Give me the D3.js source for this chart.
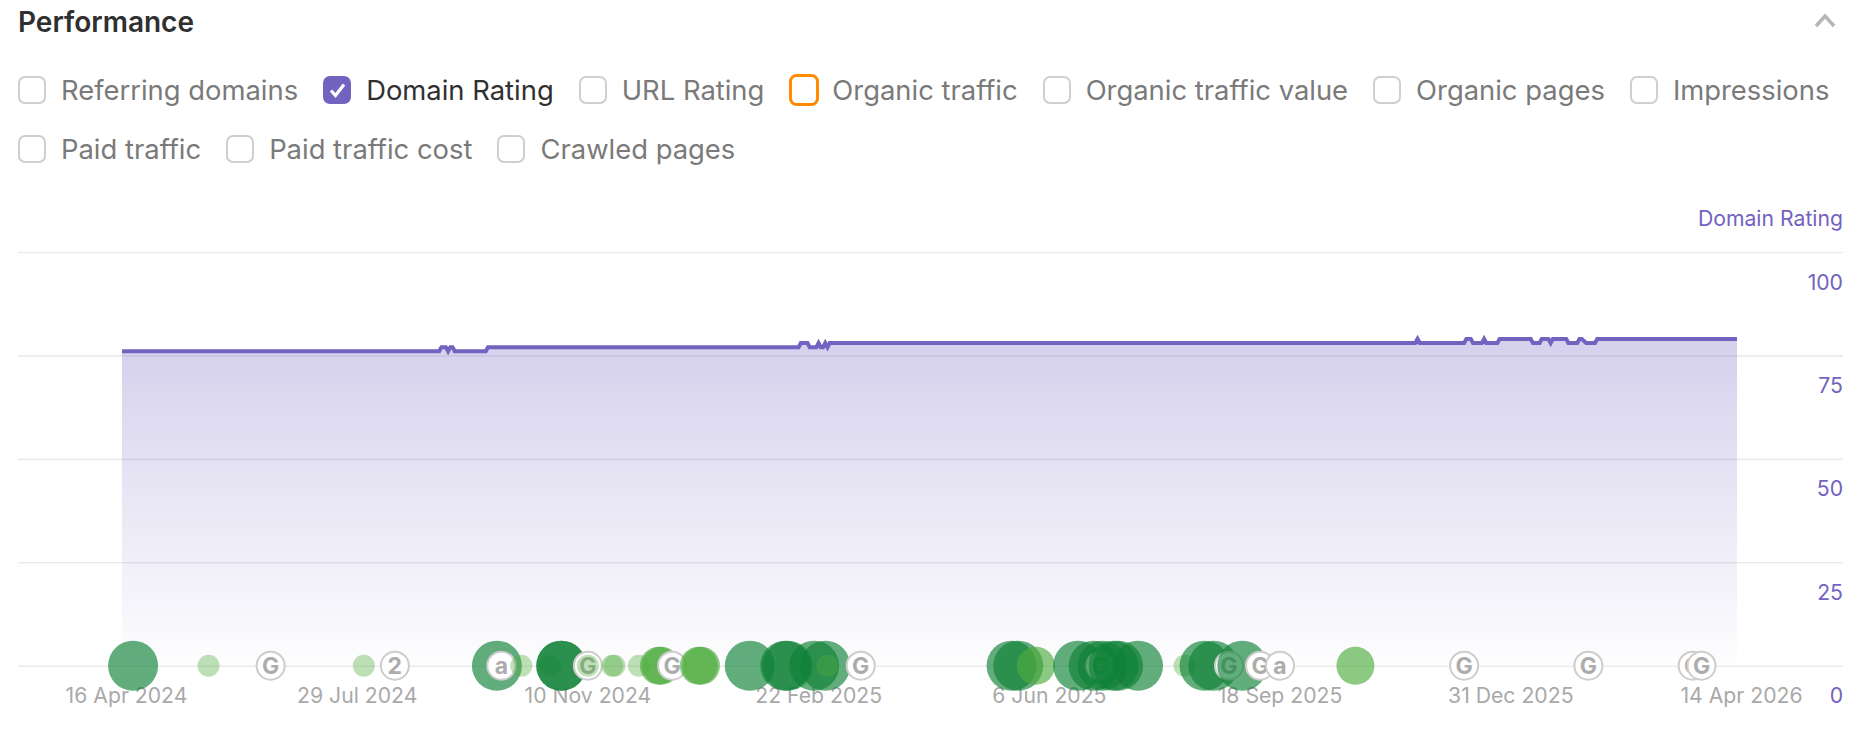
<!DOCTYPE html>
<html>
<head>
<meta charset="utf-8">
<script src="https://cdn.jsdelivr.net/npm/d3@7"></script>
<style>
    html, body { margin: 0; background: #fff; font-family: Inter, sans-serif; overflow: hidden; }
    #page { position: relative; width: 1870px; height: 736px; }
    #title { position: absolute; left: 18px; top: 5px; font-size: 28px; line-height: 34px; font-weight: 600; color: #2f2f2f; }
    #filters { position: absolute; left: 18px; top: 74px; width: 1840px; display: flex; flex-wrap: wrap; column-gap: 25px; row-gap: 27px; }
    .filter { display: flex; align-items: center; height: 32px; font-size: 27.4px; color: #7a7a7a; white-space: nowrap; }
    .filter.checked { color: #303030; }
    .filter svg { margin-right: 13px; }
    #chart { position: absolute; left: 0; top: 0; }
    .axis text { font-family: Inter, sans-serif; font-size: 21.2px; }
    .axis .domain { display: none; }
</style>
</head>
<body>
<div id="page">
    <svg id="chart" width="1870" height="736"></svg>
    <div id="title">Performance</div>
    <div id="filters"></div>
</div>
<script>
var filterLabels = ['Referring domains', 'Domain Rating', 'URL Rating', 'Organic traffic', 'Organic traffic value',
    'Organic pages', 'Impressions', 'Paid traffic', 'Paid traffic cost', 'Crawled pages'];
var checkedFilter = 'Domain Rating';
var focusedFilter = 'Organic traffic';

var yTicks = [0, 25, 50, 75, 100];
var xTicks = ['2024-04-16', '2024-07-29', '2024-11-10', '2025-02-22', '2025-06-06', '2025-09-18', '2025-12-31', '2026-04-14'];

// Domain Rating, only the days around a change
var ratingDates = ['2024-04-16', '2024-09-06', '2024-09-07', '2024-09-09', '2024-09-10', '2024-09-11', '2024-09-12', '2024-09-13',
    '2024-09-27', '2024-09-28', '2025-02-15', '2025-02-16', '2025-02-19', '2025-02-20', '2025-02-23', '2025-02-24', '2025-02-25',
    '2025-02-26', '2025-02-27', '2025-02-28', '2025-03-01', '2025-11-20', '2025-11-21', '2025-11-22', '2025-12-12', '2025-12-13',
    '2025-12-15', '2025-12-16', '2025-12-20', '2025-12-21', '2025-12-22', '2025-12-27', '2025-12-28', '2026-01-11', '2026-01-12',
    '2026-01-15', '2026-01-16', '2026-01-19', '2026-01-20', '2026-01-21', '2026-01-27', '2026-01-28', '2026-02-01', '2026-02-02',
    '2026-02-03', '2026-02-05', '2026-02-09', '2026-02-10', '2026-04-14'];
var ratingValues = [76, 76, 77, 77, 76, 77, 77, 76,
    76, 77, 77, 78, 78, 77, 77, 78, 77,
    77, 78, 77, 78, 78, 79, 78, 78, 79,
    79, 78, 78, 79, 78, 78, 79, 79, 78,
    78, 79, 79, 78, 79, 79, 78, 78, 79,
    79, 78, 78, 79, 79];

// update bubbles: level 3 is the biggest
var bubbleDates = ['2024-04-21', '2024-05-25', '2024-08-03', '2024-10-02', '2024-10-13', '2024-10-26', '2024-10-31', '2024-10-31',
    '2024-11-12', '2024-11-23', '2024-11-24', '2024-12-05', '2024-12-14', '2024-12-15', '2025-01-01', '2025-01-02', '2025-01-24',
    '2025-02-09', '2025-02-10', '2025-02-22', '2025-02-27', '2025-02-28', '2025-05-22', '2025-05-25', '2025-06-02', '2025-06-21',
    '2025-06-28', '2025-07-02', '2025-07-07', '2025-07-09', '2025-07-18', '2025-08-08', '2025-08-17', '2025-08-21', '2025-09-03', '2025-10-24'];
var bubbleLevels = [3, 1, 1, 3, 1, 1, 3, 3,
    1, 1, 1, 1, 2, 2, 2, 2, 3,
    3, 3, 3, 3, 1, 3, 3, 2, 3,
    3, 3, 3, 3, 3, 1, 3, 3, 3, 2];

var markerDates = ['2024-06-22', '2024-08-17', '2024-10-04', '2024-11-12', '2024-12-20', '2025-03-15', '2025-07-01',
    '2025-08-28', '2025-09-11', '2025-09-20', '2025-12-12', '2026-02-06', '2026-03-25', '2026-03-29'];
var markerLabels = ['G', '2', 'a', 'G', 'G', 'G', 'G', 'G', 'G', 'a', 'G', 'G', 'G', 'G'];

var purple = '#7362c0';
var parseDate = d3.utcParse('%Y-%m-%d');

// filters row
var filters = d3.select('#filters').selectAll('.filter')
    .data(filterLabels).enter()
    .append('div')
    .attr('class', d => d === checkedFilter ? 'filter checked' : 'filter');
var boxes = filters.append('svg').attr('width', 30).attr('height', 32);
boxes.append('rect')
    .attr('x', d => d === focusedFilter ? 1.5 : 1)
    .attr('y', d => d === focusedFilter ? 1.5 : 3)
    .attr('width', d => d === focusedFilter ? 27 : 26)
    .attr('height', d => d === focusedFilter ? 29 : 26)
    .attr('rx', 6)
    .attr('fill', d => d === checkedFilter ? purple : '#fff')
    .attr('stroke', d => d === focusedFilter ? '#ff8a00' : (d === checkedFilter ? purple : '#cfcfcf'))
    .attr('stroke-width', d => d === focusedFilter ? 3 : 2);
boxes.filter(d => d === checkedFilter).append('path')
    .attr('d', 'M8 16.5l4.5 5L21 10.5')
    .attr('fill', 'none')
    .attr('stroke', '#fff')
    .attr('stroke-width', 3.2);
filters.append('span').text(d => d);

// chart
var svg = d3.select('#chart');
var x = d3.scaleUtc().domain([parseDate('2024-04-16'), parseDate('2026-04-14')]).range([122, 1737]);
var y = d3.scaleLinear().domain([0, 100]).range([665.7, 252]);
var radius = d3.scaleOrdinal().domain([1, 2, 3]).range([11, 19, 25]);
var bubbleColor = d3.scaleOrdinal().domain([1, 2, 3]).range(['rgba(78,172,61,0.37)', 'rgba(78,172,61,0.65)', 'rgba(14,129,54,0.65)']);

var rating = ratingDates.map((d, i) => ({date: parseDate(d), value: ratingValues[i]}));

var grad = svg.append('defs').append('linearGradient')
    .attr('id', 'ratingFill')
    .attr('x1', 0).attr('y1', 0).attr('x2', 0).attr('y2', 1);
grad.append('stop').attr('offset', 0).attr('stop-color', purple).attr('stop-opacity', 0.3);
grad.append('stop').attr('offset', 1).attr('stop-color', purple).attr('stop-opacity', 0.01);

// y axis draws the grid too
var yAxis = svg.append('g')
    .attr('class', 'axis')
    .attr('transform', 'translate(1843,0)')
    .call(d3.axisLeft(y).tickValues(yTicks).tickSize(1825).tickPadding(0));
yAxis.selectAll('line').attr('stroke', '#ebebeb').attr('stroke-width', 1.6);
yAxis.selectAll('text')
    .attr('x', 0).attr('y', 37).attr('dy', 0)
    .attr('text-anchor', 'end')
    .attr('fill', purple);

svg.append('text')
    .attr('x', 1843).attr('y', 226)
    .attr('text-anchor', 'end')
    .style('font-size', '21.2px')
    .attr('fill', purple)
    .text('Domain Rating');

svg.append('path')
    .datum(rating)
    .attr('fill', 'url(#ratingFill)')
    .attr('d', d3.area().x(d => x(d.date)).y0(y(0)).y1(d => y(d.value)));
svg.append('path')
    .datum(rating)
    .attr('fill', 'none')
    .attr('stroke', purple)
    .attr('stroke-width', 4)
    .attr('d', d3.line().x(d => x(d.date)).y(d => y(d.value)));

var xAxis = svg.append('g')
    .attr('class', 'axis')
    .attr('transform', 'translate(0,' + y(0) + ')')
    .call(d3.axisBottom(x).tickValues(xTicks.map(parseDate)).tickFormat(d3.utcFormat('%-d %b %Y')).tickSize(0));
xAxis.selectAll('text')
    .attr('x', 4).attr('y', 37).attr('dy', 0)
    .attr('fill', '#a9a9a9');

// bubbles and markers are stacked by date, later ones on top
var events = bubbleDates.map((d, i) => ({date: parseDate(d), level: bubbleLevels[i]}))
    .concat(markerDates.map((d, i) => ({date: parseDate(d), label: markerLabels[i]})));
events = d3.sort(events, d => d.date, d => d.label ? 0 : 1);

var eventGroup = svg.selectAll('.event')
    .data(events).enter()
    .append('g')
    .attr('class', 'event')
    .attr('transform', d => 'translate(' + x(d.date) + ',' + y(0) + ')');
eventGroup.filter(d => !d.label).append('circle')
    .attr('r', d => radius(d.level))
    .attr('fill', d => bubbleColor(d.level));
var markers = eventGroup.filter(d => d.label);
markers.append('circle')
    .attr('r', 14)
    .attr('fill', '#fff')
    .attr('stroke', '#cdcdcd')
    .attr('stroke-width', 2);
markers.append('text')
    .attr('text-anchor', 'middle')
    .attr('y', 8)
    .style('font-size', '23px')
    .style('font-weight', 700)
    .attr('fill', '#acacac')
    .text(d => d.label);

// collapse chevron
svg.append('path')
    .attr('d', d3.line()([[1816, 26], [1825, 16], [1834, 26]]))
    .attr('fill', 'none')
    .attr('stroke', '#b5b5b5')
    .attr('stroke-width', 3.5);
</script>
</body>
</html>
